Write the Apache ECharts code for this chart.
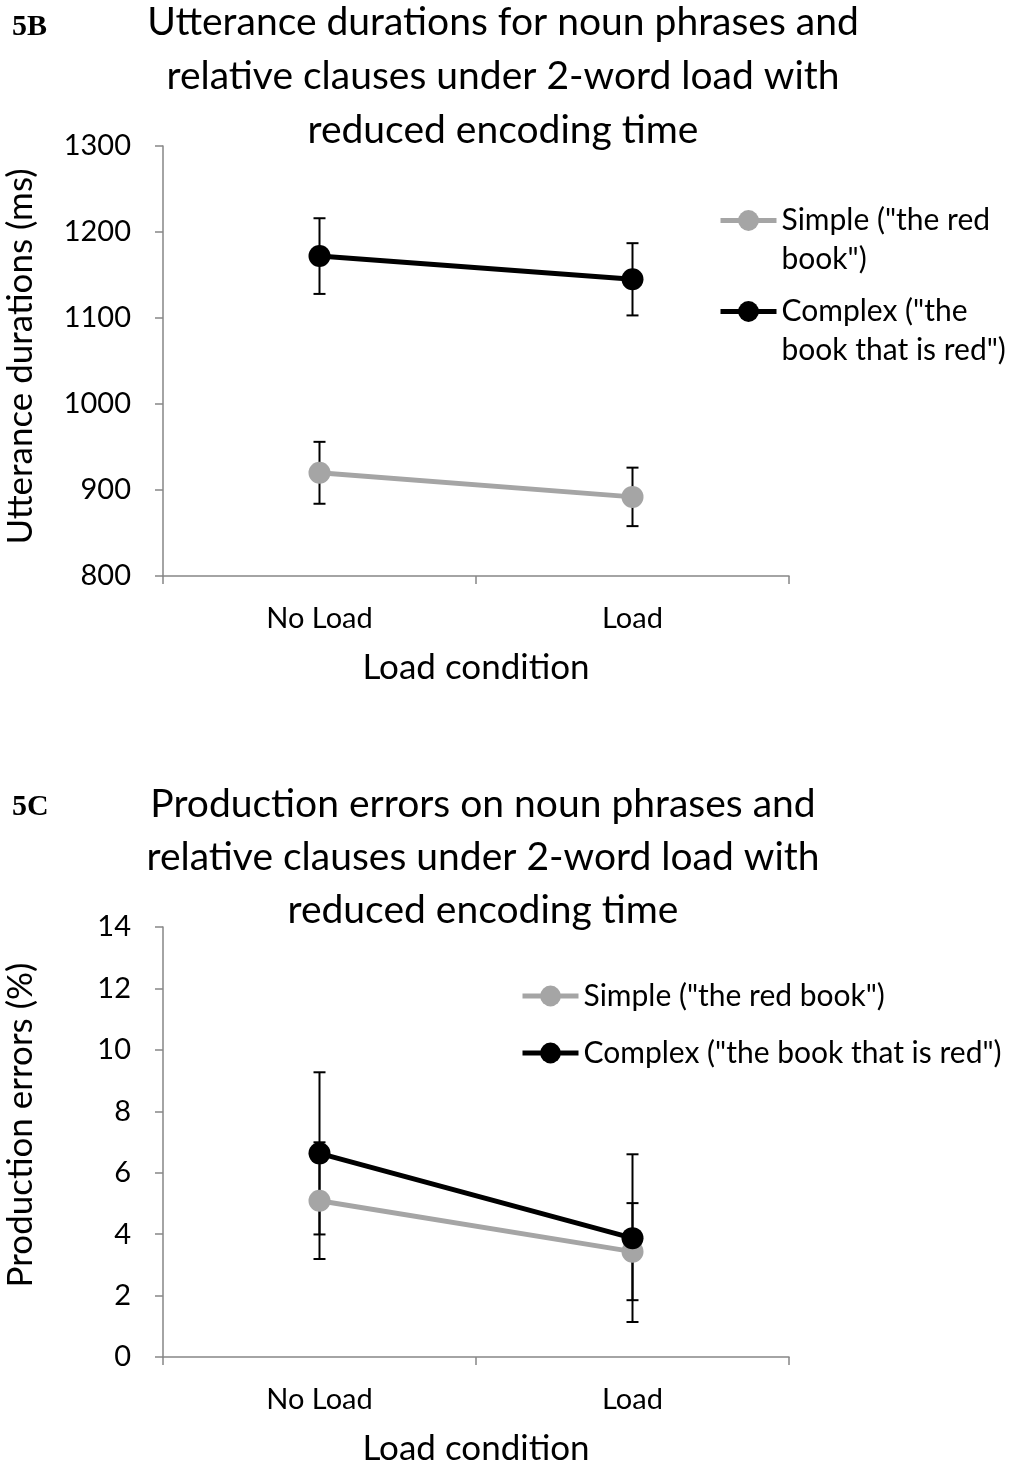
<!DOCTYPE html>
<html>
<head>
<meta charset="utf-8">
<script src="https://cdn.jsdelivr.net/npm/echarts@6/dist/echarts.min.js"></script>
<style>
html, body { margin: 0; padding: 0; background: #fff; }
#main { width: 1010px; height: 1466px; }
</style>
</head>
<body>
<div id="main"></div>
<script>
var categories = ['No Load', 'Load'];
var seriesNames = ['Simple ("the red book")', 'Complex ("the book that is red")'];

// 5B: utterance durations (ms), mean and error
var durSimple = [920, 892];
var durSimpleErr = [36, 34];
var durComplex = [1172, 1145];
var durComplexErr = [44, 42];
var durAxis = [800, 1300, 100]; // min, max, interval

// 5C: production errors (%), mean and error
var errSimple = [5.09, 3.43];
var errSimpleErr = [1.9, 1.58];
var errComplex = [6.63, 3.87];
var errComplexErr = [2.64, 2.73];
var errAxis = [0, 14, 2];

var FONT = 'Lato';
var GREY = '#a5a5a5';
var AXIS = '#868686';

function errorBars(idx, values, errs) {
    var data = values.map(function (v, i) { return [i, v - errs[i], v + errs[i]]; });
    return {
        type: 'custom',
        xAxisIndex: idx,
        yAxisIndex: idx,
        z: 1,
        silent: true,
        encode: { x: 0, y: [1, 2] },
        data: data,
        renderItem: function (params, api) {
            var lo = api.coord([api.value(0), api.value(1)]);
            var hi = api.coord([api.value(0), api.value(2)]);
            var w = 6;
            var st = { stroke: '#000', lineWidth: 2 };
            return {
                type: 'group',
                children: [
                    { type: 'line', shape: { x1: hi[0], y1: hi[1], x2: lo[0], y2: lo[1] }, style: st },
                    { type: 'line', shape: { x1: hi[0] - w, y1: hi[1], x2: hi[0] + w, y2: hi[1] }, style: st },
                    { type: 'line', shape: { x1: lo[0] - w, y1: lo[1], x2: lo[0] + w, y2: lo[1] }, style: st }
                ]
            };
        }
    };
}

function lineSeries(idx, name, values, color) {
    return {
        type: 'line',
        name: name,
        xAxisIndex: idx,
        yAxisIndex: idx,
        data: values,
        symbol: 'circle',
        symbolSize: 22,
        z: 3,
        itemStyle: { color: color },
        lineStyle: { color: color, width: 5 },
        emphasis: { disabled: true },
        silent: true
    };
}

function xAxis(idx) {
    return {
        type: 'category',
        gridIndex: idx,
        data: categories,
        boundaryGap: true,
        name: 'Load condition',
        nameLocation: 'middle',
        nameGap: 74,
        nameTextStyle: { fontFamily: FONT, fontSize: 35, color: '#000' },
        axisLine: { lineStyle: { color: AXIS, width: 1.5 } },
        axisTick: { show: true, length: 8, lineStyle: { color: AXIS, width: 1.5 } },
        axisLabel: { fontFamily: FONT, fontSize: 29, color: '#000', margin: 28 },
        splitLine: { show: false }
    };
}

function yAxis(idx, name, range, shift) {
    return {
        type: 'value',
        gridIndex: idx,
        min: range[0],
        max: range[1],
        interval: range[2],
        name: name,
        nameLocation: 'middle',
        nameGap: 125,
        nameTextStyle: { fontFamily: FONT, fontSize: 35, color: '#000', padding: [0, 0, 0, shift] },
        axisLine: { show: true, lineStyle: { color: AXIS, width: 1.5 } },
        axisTick: { show: true, length: 8, lineStyle: { color: AXIS, width: 1.5 } },
        axisLabel: {
            fontFamily: FONT, fontSize: 29, color: '#000', margin: 32,
            formatter: function (v) { return String(v); }
        },
        splitLine: { show: false }
    };
}

var wrapped = {};
wrapped[seriesNames[0]] = '\nSimple ("the red\nbook")';
wrapped[seriesNames[1]] = '\nComplex ("the\nbook that is red")';

function legendTop(name, left, top) {
    return {
        data: [name],
        orient: 'vertical',
        left: left,
        top: top,
        padding: 0,
        itemWidth: 56,
        itemHeight: 26,
        selectedMode: false,
        lineStyle: { width: 5 },
        formatter: function (n) { return wrapped[n]; },
        textStyle: { fontFamily: FONT, fontSize: 30, color: '#000', lineHeight: 39 }
    };
}

var chart = echarts.init(document.getElementById('main'));
chart.setOption({
    backgroundColor: '#fff',
    animation: false,
    title: [
        {
            text: 'Utterance durations for noun phrases and\nrelative clauses under 2-word load with\nreduced encoding time',
            left: 503, top: -5, padding: 0, textAlign: 'center',
            textStyle: { fontFamily: FONT, fontSize: 39, fontWeight: 'normal', color: '#000', lineHeight: 54 }
        },
        {
            text: 'Production errors on noun phrases and\nrelative clauses under 2-word load with\nreduced encoding time',
            left: 483, top: 778, padding: 0, textAlign: 'center',
            textStyle: { fontFamily: FONT, fontSize: 39, fontWeight: 'normal', color: '#000', lineHeight: 53 }
        },
        {
            text: '5B', left: 12, top: 12, padding: 0,
            textStyle: { fontFamily: 'Liberation Serif', fontSize: 30, fontWeight: 'bold', color: '#000' }
        },
        {
            text: '5C', left: 12, top: 792, padding: 0,
            textStyle: { fontFamily: 'Liberation Serif', fontSize: 30, fontWeight: 'bold', color: '#000' }
        }
    ],
    legend: [
        legendTop(seriesNames[0], 718, 162),
        legendTop(seriesNames[1], 718, 253),
        {
            data: seriesNames,
            orient: 'vertical',
            left: 520,
            top: 980,
            padding: 0,
            itemWidth: 56,
            itemHeight: 26,
            itemGap: 25,
            selectedMode: false,
            lineStyle: { width: 5 },
            textStyle: { fontFamily: FONT, fontSize: 30, color: '#000', lineHeight: 32 }
        }
    ],
    grid: [
        { left: 163, top: 146, width: 626, height: 430, outerBoundsMode: 'none' },
        { left: 163, top: 927, width: 626, height: 430, outerBoundsMode: 'none' }
    ],
    xAxis: [xAxis(0), xAxis(1)],
    yAxis: [
        yAxis(0, 'Utterance durations (ms)', durAxis, 9),
        yAxis(1, 'Production errors (%)', errAxis, 34)
    ],
    series: [
        errorBars(0, durSimple, durSimpleErr),
        errorBars(0, durComplex, durComplexErr),
        lineSeries(0, seriesNames[0], durSimple, GREY),
        lineSeries(0, seriesNames[1], durComplex, '#000'),
        errorBars(1, errSimple, errSimpleErr),
        errorBars(1, errComplex, errComplexErr),
        lineSeries(1, seriesNames[0], errSimple, GREY),
        lineSeries(1, seriesNames[1], errComplex, '#000')
    ]
});
</script>
</body>
</html>
